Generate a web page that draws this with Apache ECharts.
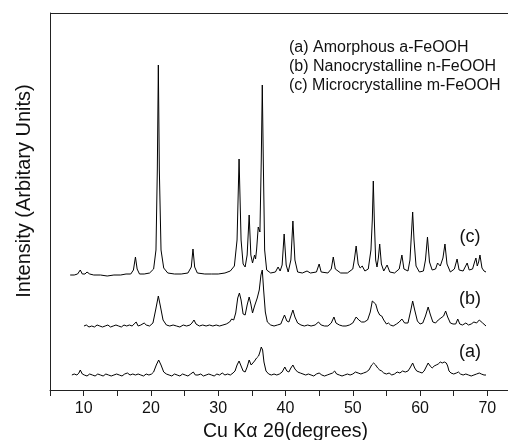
<!DOCTYPE html>
<html>
<head>
<meta charset="utf-8">
<script src="https://cdn.jsdelivr.net/npm/echarts@6/dist/echarts.min.js"></script>
<style>html,body{margin:0;padding:0;background:#fff}#chart{width:508px;height:440px}</style>
</head>
<body>
<div id="chart"></div>
<script>
// 2θ (degrees) vs intensity (arbitrary units, traces already vertically offset)
const seriesNames = ['(a) Amorphous a-FeOOH', '(b) Nanocrystalline n-FeOOH', '(c) Microcrystalline m-FeOOH'];
const traceLabels = ['(a)', '(b)', '(c)'];
const xTicks = [10, 20, 30, 40, 50, 60, 70];

const traceA = [[8.25,15],[8.6,16],[9.0,15],[9.3,17],[9.5,20],[9.8,16],[10.1,15],[10.5,14],[10.9,16],[11.3,15],[11.7,14],[12.1,16],[12.5,15],[12.9,14],[13.3,16],[13.7,15],[14.1,14],[14.5,15],[14.9,16],[15.3,15],[15.7,14],[16.1,16],[16.5,17],[16.9,15],[17.3,16],[17.7,15],[18.1,16],[18.5,15],[18.9,14],[19.3,16],[19.7,15],[20.1,16],[20.4,18],[20.8,25],[21.15,30],[21.5,25],[21.9,18],[22.3,16],[22.7,15],[23.1,14],[23.5,16],[23.9,15],[24.3,14],[24.7,16],[25.1,15],[25.5,14],[25.9,16],[26.3,18],[26.6,15],[27.0,15],[27.4,16],[27.8,14],[28.2,15],[28.6,16],[29.0,15],[29.4,14],[29.8,16],[30.2,15],[30.6,17],[31.0,15],[31.4,16],[31.8,15],[32.2,17],[32.5,19],[32.8,25],[33.1,29],[33.4,24],[33.7,19],[34.0,18],[34.3,23],[34.6,30],[34.9,25],[35.1,27],[35.4,29],[35.7,32],[36.0,34],[36.2,38],[36.4,43],[36.6,40],[36.8,28],[37.1,19],[37.5,16],[37.9,15],[38.3,16],[38.7,15],[39.1,16],[39.5,18],[39.9,23],[40.2,19],[40.5,18],[40.8,22],[41.1,25],[41.4,21],[41.8,18],[42.2,17],[42.6,16],[43.0,15],[43.4,16],[43.8,15],[44.2,14],[44.6,16],[45.0,17],[45.4,15],[45.8,14],[46.2,15],[46.6,16],[47.0,17],[47.3,19],[47.6,16],[48.0,15],[48.4,14],[48.8,15],[49.2,16],[49.6,15],[50.0,16],[50.4,18],[50.8,17],[51.2,16],[51.6,17],[52.0,18],[52.4,20],[52.8,25],[53.1,27],[53.4,25],[53.7,22],[54.0,20],[54.3,19],[54.6,17],[55.0,16],[55.4,17],[55.8,15],[56.2,16],[56.6,18],[57.0,17],[57.4,19],[57.8,18],[58.2,19],[58.5,22],[58.9,27],[59.2,22],[59.5,19],[59.9,18],[60.3,17],[60.6,19],[60.9,23],[61.2,27],[61.5,24],[61.8,22],[62.1,24],[62.4,25],[62.7,26],[63.0,28],[63.3,27],[63.6,28],[63.9,27],[64.1,24],[64.3,19],[64.6,17],[65.0,16],[65.4,17],[65.7,18],[66.0,16],[66.4,15],[66.8,16],[67.2,15],[67.6,14],[68.0,15],[68.4,16],[68.8,17],[69.1,16],[69.5,15],[69.8,15]];

const traceB = [[10.05,64],[10.4,65],[10.8,63],[11.2,64],[11.6,63],[12.0,65],[12.4,64],[12.8,63],[13.2,64],[13.6,65],[14.0,63],[14.4,64],[14.8,65],[15.2,64],[15.6,63],[16.0,65],[16.4,64],[16.8,65],[17.2,64],[17.5,66],[17.8,68],[18.1,64],[18.5,65],[19.0,67],[19.3,65],[19.8,64],[20.3,67],[20.7,80],[21.1,94],[21.4,84],[21.8,70],[22.3,65],[22.8,64],[23.3,65],[23.8,64],[24.3,63],[24.8,65],[25.3,64],[25.8,65],[26.1,67],[26.4,70],[26.7,66],[27.2,64],[27.7,65],[28.2,64],[28.7,65],[29.2,64],[29.7,65],[30.2,64],[30.7,65],[31.2,66],[31.7,68],[32.0,71],[32.3,70],[32.6,77],[32.9,92],[33.15,97],[33.4,90],[33.7,76],[34.0,75],[34.3,85],[34.6,93],[34.85,86],[35.1,77],[35.4,84],[35.8,92],[36.1,100],[36.35,115],[36.55,120],[36.75,100],[37.0,78],[37.3,68],[37.8,65],[38.3,64],[38.8,65],[39.3,66],[39.6,71],[39.85,75],[40.2,69],[40.5,68],[40.8,74],[41.1,80],[41.4,73],[41.8,67],[42.3,65],[42.8,64],[43.3,65],[43.8,64],[44.4,65],[44.9,68],[45.3,65],[45.8,64],[46.3,64],[46.8,67],[47.2,73],[47.5,67],[48.0,65],[48.5,64],[49.0,64],[49.5,65],[50.0,67],[50.5,73],[50.9,70],[51.3,68],[51.7,68],[52.2,70],[52.6,78],[52.9,89],[53.1,91],[53.4,86],[53.7,79],[54.0,75],[54.3,74],[54.6,70],[55.0,66],[55.3,67],[55.6,65],[56.0,64],[56.5,66],[56.9,68],[57.3,71],[57.7,67],[58.2,67],[58.6,79],[58.9,89],[59.2,80],[59.6,69],[60.0,66],[60.4,67],[60.8,74],[61.2,83],[61.5,76],[61.9,68],[62.3,67],[62.7,70],[63.1,72],[63.5,74],[63.8,79],[64.1,73],[64.5,67],[64.9,66],[65.3,66],[65.6,71],[65.9,66],[66.3,65],[66.8,67],[67.2,65],[67.6,66],[68.0,68],[68.4,67],[68.8,70],[69.0,72],[69.3,67],[69.8,64]];

const traceC = [[8.0,115],[8.6,115],[9.1,116],[9.5,120],[9.8,116],[10.2,116],[10.5,118],[10.9,116],[11.5,115],[12.5,115],[13.5,114],[14.5,115],[15.5,115],[16.3,116],[17.0,116],[17.4,120],[17.7,133],[17.95,121],[18.3,116],[19.0,116],[19.8,117],[20.4,121],[20.75,140],[20.95,220],[21.1,325],[21.25,220],[21.5,140],[21.9,122],[22.5,117],[23.5,116],[24.5,116],[25.5,117],[26.0,123],[26.25,141],[26.5,123],[26.9,117],[28,116],[29,116],[30,116],[31,117],[31.8,119],[32.4,124],[32.8,150],[33.1,231],[33.4,150],[33.7,126],[34.0,123],[34.3,135],[34.6,175],[34.85,135],[35.1,127],[35.4,135],[35.55,131],[35.7,140],[35.95,163],[36.2,158],[36.4,230],[36.55,305],[36.7,230],[36.9,140],[37.2,120],[37.8,117],[38.5,118],[38.9,123],[39.2,119],[39.5,125],[39.8,156],[40.1,125],[40.4,118],[40.8,130],[41.1,169],[41.4,130],[41.8,118],[42.5,117],[43.2,119],[43.7,117],[44.6,118],[45.0,126],[45.3,118],[46.3,117],[46.8,121],[47.1,133],[47.4,121],[48.2,117],[49.2,117],[50.0,121],[50.25,131],[50.5,144],[50.8,126],[51.1,122],[51.4,124],[51.8,119],[52.3,121],[52.7,140],[52.9,170],[53.05,209],[53.2,170],[53.4,130],[53.6,123],[53.8,132],[54.0,146],[54.25,126],[54.6,119],[55.1,125],[55.5,118],[56.2,117],[56.9,121],[57.3,135],[57.6,121],[58.2,119],[58.5,130],[58.75,160],[58.9,178],[59.1,150],[59.4,124],[59.9,118],[60.5,119],[60.8,130],[61.1,153],[61.4,128],[61.8,120],[62.3,121],[62.6,127],[62.8,128],[63.0,124],[63.2,128],[63.4,132],[63.7,146],[64.0,126],[64.5,118],[65.1,121],[65.5,131],[65.8,120],[66.4,119],[66.7,123],[67.0,127],[67.3,120],[67.8,121],[68.1,128],[68.3,132],[68.5,124],[68.7,128],[68.9,135],[69.2,122],[69.5,119],[69.8,118]];

const FONT = '"Liberation Sans", Arial, sans-serif';
const chart = echarts.init(document.getElementById('chart'));

function lineSeries(name, data) {
  return {
    name: name, type: 'line', data: data, showSymbol: false, symbol: 'none',
    lineStyle: { color: '#000', width: 1 }, itemStyle: { color: '#000' },
    animation: false, silent: true
  };
}

chart.setOption({
  animation: false,
  backgroundColor: '#fff',
  grid: { left: 50, right: -13, top: 13, bottom: 50, containLabel: false, outerBoundsMode: 'none', show: false },
  xAxis: {
    type: 'value', min: 5, max: 75, interval: 5, position: 'bottom',
    axisLine: { lineStyle: { color: '#222', width: 1 } },
    axisTick: { show: true, inside: false, length: 6, lineStyle: { color: '#222' } },
    splitLine: { show: false },
    axisLabel: {
      color: '#111', fontFamily: FONT, fontSize: 16, margin: 11,
      formatter: function (v) { return xTicks.indexOf(v) >= 0 ? String(v) : ''; }
    },
    name: 'Cu K\u03b1 2\u03b8(degrees)', nameLocation: 'middle', nameGap: 30,
    nameTextStyle: { color: '#111', fontFamily: FONT, fontSize: 19.5 }
  },
  yAxis: {
    type: 'value', min: 0, max: 377,
    axisLine: { show: true, lineStyle: { color: '#222', width: 1 } },
    axisTick: { show: false }, axisLabel: { show: false }, splitLine: { show: false }
  },
  series: [
    lineSeries(seriesNames[0], traceA),
    lineSeries(seriesNames[1], traceB),
    lineSeries(seriesNames[2], traceC)
  ],
  graphic: [
    { type: 'line', shape: { x1: 50, y1: 13.5, x2: 508, y2: 13.5 }, style: { stroke: '#222', lineWidth: 1 }, silent: true },
    { type: 'text', x: 24, y: 191, rotation: Math.PI / 2,
      style: { text: 'Intensity (Arbitary Units)', font: '20px ' + FONT, fill: '#111', textAlign: 'center', textVerticalAlign: 'middle' } },
    { type: 'text', x: 289, y: 48, style: { text: seriesNames[0], font: '16px ' + FONT, fill: '#111', textVerticalAlign: 'middle' } },
    { type: 'text', x: 289, y: 67, style: { text: seriesNames[1], font: '16px ' + FONT, fill: '#111', textVerticalAlign: 'middle' } },
    { type: 'text', x: 289, y: 86, style: { text: seriesNames[2], font: '16px ' + FONT, fill: '#111', textVerticalAlign: 'middle' } },
    { type: 'text', x: 470, y: 237, style: { text: traceLabels[2], font: '18px ' + FONT, fill: '#111', textAlign: 'center', textVerticalAlign: 'middle' } },
    { type: 'text', x: 470, y: 299, style: { text: traceLabels[1], font: '18px ' + FONT, fill: '#111', textAlign: 'center', textVerticalAlign: 'middle' } },
    { type: 'text', x: 470, y: 352, style: { text: traceLabels[0], font: '18px ' + FONT, fill: '#111', textAlign: 'center', textVerticalAlign: 'middle' } }
  ]
});
</script>
</body>
</html>
